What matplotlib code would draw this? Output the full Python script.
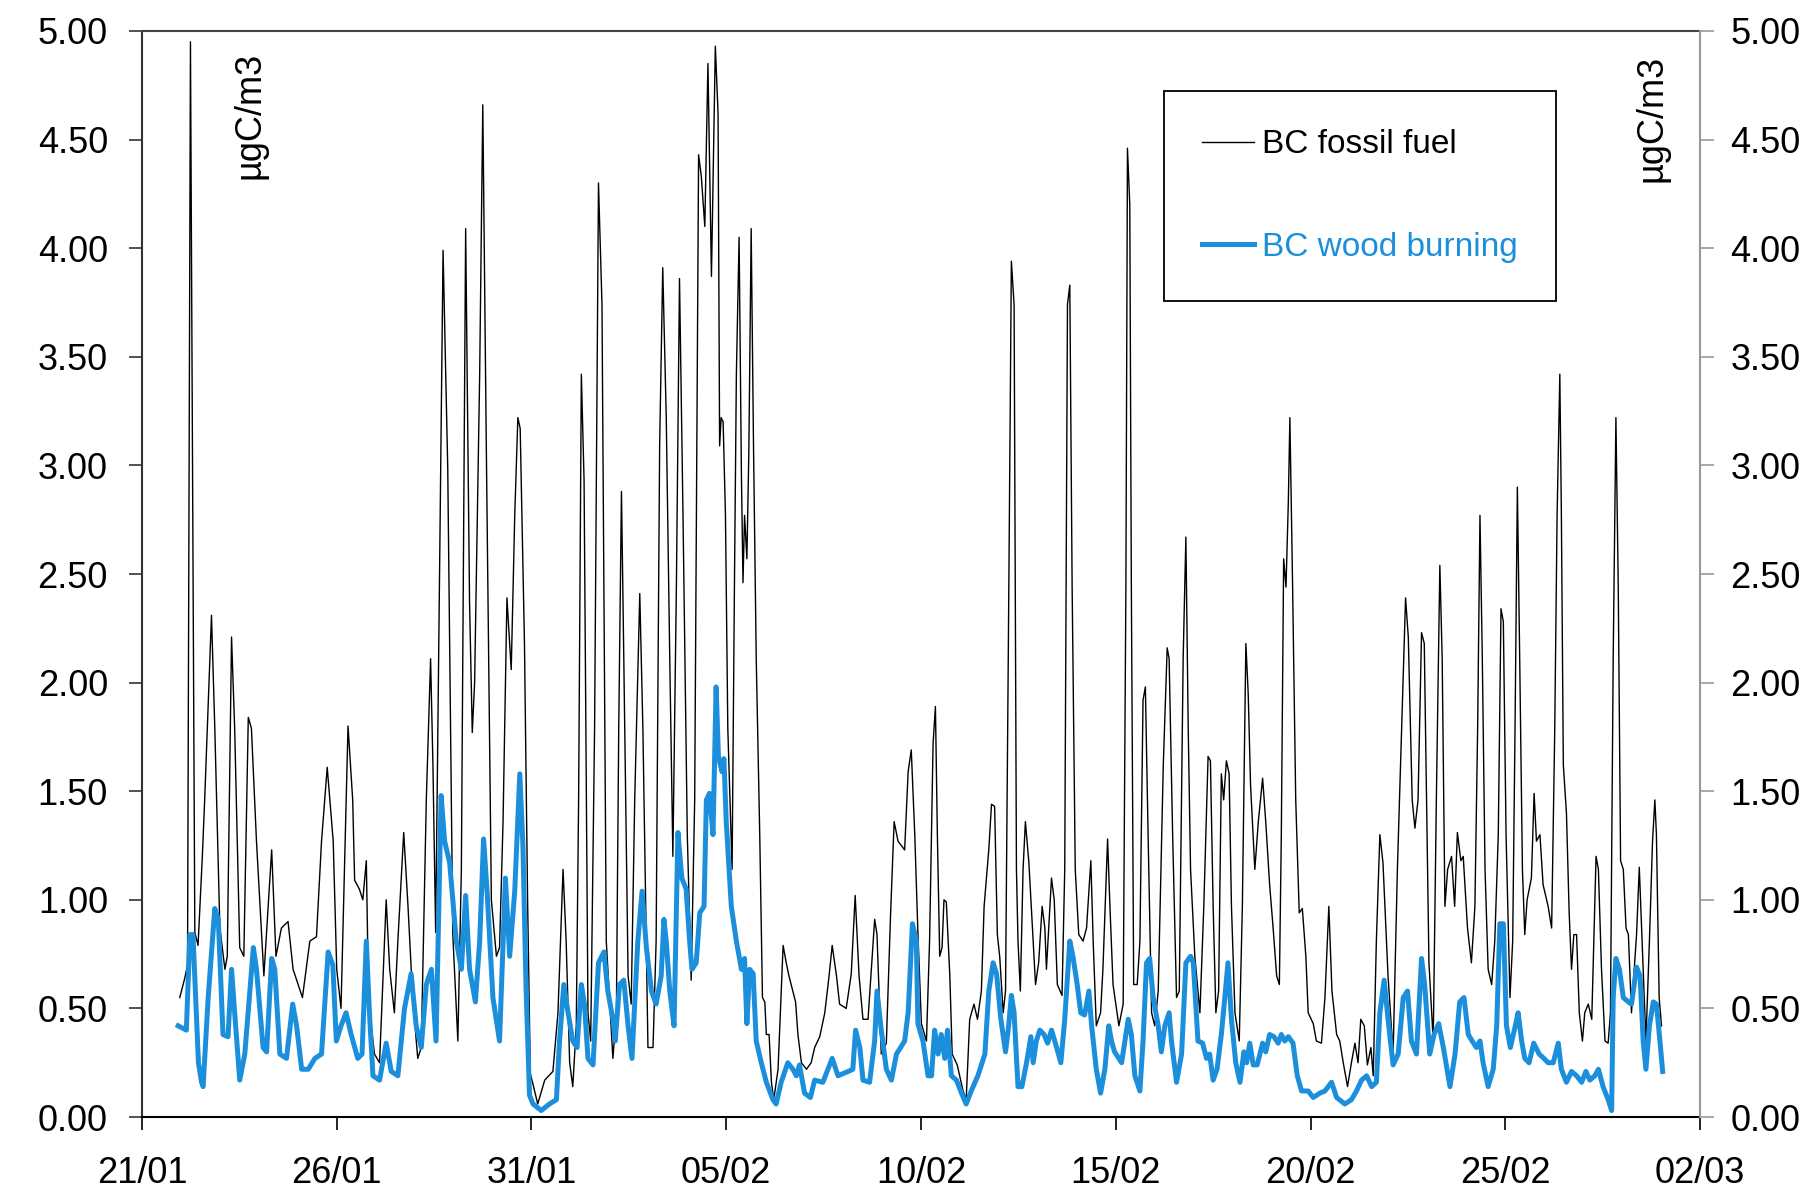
import datetime as dt
import matplotlib
matplotlib.use("Agg")
import matplotlib.pyplot as plt
import matplotlib.dates as mdates
from matplotlib.ticker import FormatStrFormatter, MultipleLocator

plt.rcParams['font.family'] = ['Liberation Sans', 'DejaVu Sans']

# BC fossil fuel, time in days after 21/01/2013 00:00
ff_day = [0.97, 1.10, 1.17, 1.245, 1.357, 1.44, 1.55, 1.61, 1.785, 1.87, 2.00, 2.13, 2.19, 2.30, 2.38, 2.51,
          2.615, 2.73, 2.81, 2.94, 3.13, 3.33, 3.44, 3.58, 3.75, 3.88, 4.12, 4.31, 4.48, 4.61, 4.756, 4.91,
          5.00, 5.11, 5.29, 5.41, 5.46, 5.58, 5.67, 5.76, 5.82, 5.97, 6.10, 6.27, 6.36, 6.48, 6.57, 6.72,
          6.83, 6.95, 7.08, 7.17, 7.30, 7.41, 7.47, 7.54, 7.73, 7.85, 7.98, 8.11, 8.20, 8.31, 8.41, 8.48,
          8.54, 8.67, 8.75, 8.84, 8.97, 9.10, 9.18, 9.27, 9.37, 9.48, 9.57, 9.65, 9.71, 9.82, 9.90, 9.97,
          10.04, 10.16, 10.34, 10.55, 10.68, 10.81, 10.89, 10.98, 11.06, 11.15, 11.21, 11.28, 11.35, 11.45,
          11.52, 11.62, 11.72, 11.81, 11.92, 12.09, 12.18, 12.24, 12.31, 12.37, 12.48, 12.56, 12.65, 12.78,
          12.86, 12.99, 13.12, 13.20, 13.29, 13.37, 13.46, 13.55, 13.63, 13.72, 13.80, 13.89, 14.00, 14.10,
          14.19, 14.29, 14.36, 14.45, 14.53, 14.62, 14.72, 14.79, 14.83, 14.87, 14.92, 14.98, 15.04, 15.15,
          15.21, 15.26, 15.33, 15.39, 15.43, 15.47, 15.53, 15.58, 15.64, 15.70, 15.77, 15.86, 15.93, 15.99,
          16.03, 16.10, 16.16, 16.22, 16.33, 16.46, 16.54, 16.61, 16.71, 16.78, 16.84, 16.93, 17.06, 17.18,
          17.27, 17.40, 17.53, 17.64, 17.72, 17.83, 17.91, 18.08, 18.21, 18.31, 18.41, 18.51, 18.64, 18.81,
          18.87, 18.98, 19.11, 19.22, 19.31, 19.41, 19.58, 19.67, 19.75, 19.84, 19.92, 20.01, 20.14, 20.22,
          20.31, 20.37, 20.42, 20.48, 20.54, 20.59, 20.65, 20.74, 20.80, 20.93, 21.08, 21.16, 21.25, 21.36,
          21.45, 21.55, 21.62, 21.74, 21.81, 21.89, 21.96, 22.02, 22.11, 22.17, 22.24, 22.32, 22.39, 22.45,
          22.49, 22.55, 22.62, 22.68, 22.77, 22.83, 22.94, 23.02, 23.11, 23.18, 23.22, 23.35, 23.42, 23.50,
          23.62, 23.69, 23.76, 23.82, 23.88, 23.96, 24.05, 24.16, 24.25, 24.36, 24.42, 24.50, 24.61, 24.67,
          24.79, 24.85, 24.93, 25.08, 25.19, 25.26, 25.30, 25.36, 25.40, 25.46, 25.55, 25.62, 25.70, 25.76,
          25.83, 25.92, 26.00, 26.09, 26.22, 26.32, 26.37, 26.46, 26.56, 26.63, 26.73, 26.80, 26.86, 26.92,
          27.03, 27.16, 27.26, 27.37, 27.43, 27.50, 27.57, 27.64, 27.71, 27.77, 27.84, 27.91, 27.97, 28.06,
          28.17, 28.25, 28.34, 28.40, 28.46, 28.57, 28.66, 28.77, 28.85, 28.95, 29.04, 29.13, 29.20, 29.25,
          29.31, 29.37, 29.43, 29.47, 29.54, 29.62, 29.71, 29.79, 29.88, 29.94, 30.07, 30.15, 30.28, 30.37,
          30.47, 30.55, 30.67, 30.75, 30.84, 30.95, 31.05, 31.14, 31.22, 31.29, 31.38, 31.46, 31.55, 31.61,
          31.69, 31.78, 31.86, 31.99, 32.12, 32.23, 32.34, 32.44, 32.51, 32.61, 32.68, 32.76, 32.85, 32.92,
          32.98, 33.04, 33.15, 33.23, 33.32, 33.38, 33.45, 33.52, 33.62, 33.70, 33.77, 33.86, 33.92, 34.03,
          34.13, 34.22, 34.29, 34.35, 34.41, 34.48, 34.56, 34.65, 34.73, 34.82, 34.89, 34.95, 35.02, 35.12,
          35.19, 35.25, 35.31, 35.37, 35.44, 35.50, 35.56, 35.67, 35.74, 35.80, 35.89, 35.97, 36.10, 36.19,
          36.27, 36.33, 36.40, 36.44, 36.49, 36.57, 36.64, 36.70, 36.76, 36.83, 36.90, 36.98, 37.04, 37.13,
          37.22, 37.33, 37.39, 37.47, 37.56, 37.64, 37.70, 37.77, 37.84, 37.90, 37.96, 38.03, 38.10, 38.16,
          38.24, 38.31, 38.37, 38.44, 38.50, 38.61, 38.70, 38.78, 38.84, 38.88, 38.95, 39.01]
ff_val = [0.55, 0.64, 0.70, 4.95, 0.85, 0.79, 1.20, 1.46, 2.31, 1.79, 0.87, 0.68, 0.74, 2.21, 1.79, 0.78,
          0.74, 1.84, 1.79, 1.27, 0.65, 1.23, 0.74, 0.87, 0.90, 0.68, 0.55, 0.81, 0.83, 1.27, 1.61, 1.27,
          0.68, 0.50, 1.80, 1.46, 1.09, 1.05, 1.00, 1.18, 0.52, 0.29, 0.25, 1.00, 0.68, 0.48, 0.81, 1.31,
          0.97, 0.55, 0.27, 0.32, 1.46, 2.11, 1.62, 0.85, 3.99, 2.99, 0.84, 0.35, 1.14, 4.09, 2.37, 1.77,
          2.00, 3.42, 4.66, 3.09, 1.00, 0.74, 0.78, 1.36, 2.39, 2.06, 2.77, 3.22, 3.17, 2.18, 1.00, 0.20,
          0.15, 0.06, 0.17, 0.21, 0.48, 1.14, 0.81, 0.25, 0.14, 0.42, 1.46, 3.42, 2.93, 0.48,
          0.35, 1.79, 4.30, 3.74, 0.81, 0.27, 0.48, 1.79, 2.88, 2.11, 0.65, 0.52, 1.46, 2.41,
          1.79, 0.32, 0.32, 0.81, 3.09, 3.91, 3.22, 2.11, 1.20, 2.44, 3.86, 2.77, 1.30, 0.63,
          1.46, 4.43, 4.33, 4.10, 4.85, 3.87, 4.93, 4.62, 3.09, 3.22, 3.20, 2.77, 1.79, 1.14,
          2.44, 3.42, 4.05, 2.95, 2.46, 2.77, 2.57, 3.06, 4.09, 3.09, 2.11, 1.30, 0.55, 0.53,
          0.38, 0.38, 0.16, 0.08, 0.22, 0.79, 0.71, 0.65, 0.58, 0.53, 0.38, 0.25, 0.22, 0.25,
          0.32, 0.37, 0.48, 0.65, 0.79, 0.65, 0.52, 0.50, 0.66, 1.02, 0.65, 0.45, 0.45, 0.91,
          0.84, 0.29, 0.34, 0.94, 1.36, 1.27, 1.23, 1.59, 1.69, 1.30, 0.85, 0.43, 0.35, 0.81,
          1.72, 1.89, 1.30, 0.74, 0.78, 1.00, 0.99, 0.65, 0.29, 0.24, 0.12, 0.08, 0.45, 0.52,
          0.45, 0.58, 0.97, 1.23, 1.44, 1.43, 0.84, 0.74, 0.48, 0.58, 2.11, 3.94, 3.74, 1.14,
          0.81, 0.58, 1.14, 1.36, 1.17, 0.97, 0.61, 0.71, 0.97, 0.87, 0.68, 1.10, 1.00, 0.61,
          0.56, 1.14, 3.74, 3.83, 2.44, 1.14, 0.84, 0.81, 0.87, 1.18, 0.81, 0.42, 0.48, 0.68,
          1.28, 0.97, 0.61, 0.42, 0.52, 2.44, 4.46, 4.20, 2.44, 0.61, 0.61, 0.81, 1.92, 1.98,
          1.30, 0.48, 0.42, 0.58, 1.62, 2.16, 2.11, 1.30, 0.55, 0.58, 2.11, 2.67, 1.79, 1.14,
          0.74, 0.48, 0.97, 1.66, 1.64, 0.97, 0.48, 0.58, 1.58, 1.46, 1.64, 1.58, 0.97, 0.48,
          0.35, 0.97, 2.18, 1.95, 1.53, 1.14, 1.36, 1.56, 1.36, 1.07, 0.87, 0.65, 0.61, 1.30,
          2.57, 2.44, 2.83, 3.22, 2.44, 1.46, 0.94, 0.96, 0.74, 0.48, 0.43, 0.35, 0.34, 0.55,
          0.97, 0.58, 0.38, 0.35, 0.25, 0.14, 0.25, 0.34, 0.25, 0.45, 0.42, 0.24, 0.32, 0.19,
          0.81, 1.30, 1.17, 0.65, 0.29, 1.14, 1.79, 2.39, 2.21, 1.46, 1.33, 1.46, 2.23, 2.18,
          1.46, 0.71, 0.35, 1.46, 2.54, 2.11, 0.97, 1.14, 1.20, 0.97, 1.31, 1.18, 1.20, 0.87,
          0.71, 0.97, 1.79, 2.77, 2.11, 1.14, 0.68, 0.61, 0.81, 1.30, 2.34, 2.28, 1.30, 0.55,
          0.81, 1.79, 2.90, 2.11, 1.14, 0.84, 1.00, 1.10, 1.49, 1.27, 1.30, 1.07, 0.97, 0.87,
          1.79, 2.77, 3.42, 2.77, 1.62, 1.40, 0.94, 0.68, 0.84, 0.84, 0.48, 0.35, 0.48, 0.52,
          0.45, 1.20, 1.14, 0.68, 0.35, 0.34, 0.48, 2.11, 3.22, 2.44, 1.18, 1.14, 0.87, 0.84,
          0.48, 0.68, 0.84, 1.15, 0.87, 0.35, 0.81, 1.27, 1.46, 1.30, 0.55, 0.42]

# BC wood burning
wb_day = [0.93, 1.14, 1.23, 1.31, 1.45, 1.53, 1.57, 1.70, 1.87, 1.96, 2.08, 2.21, 2.30, 2.38, 2.51, 2.64,
          2.86, 2.94, 3.11, 3.20, 3.33, 3.41, 3.54, 3.71, 3.87, 3.97, 4.10, 4.27, 4.44, 4.61, 4.78, 4.90,
          4.99, 5.11, 5.24, 5.37, 5.54, 5.65, 5.76, 5.84, 5.93, 6.10, 6.27, 6.40, 6.57, 6.74, 6.91, 7.04,
          7.17, 7.30, 7.43, 7.55, 7.68, 7.77, 7.90, 8.07, 8.20, 8.31, 8.41, 8.56, 8.67, 8.77, 8.86, 9.01,
          9.18, 9.33, 9.44, 9.57, 9.70, 9.78, 9.86, 9.95, 10.04, 10.25, 10.46, 10.64, 10.72, 10.83, 10.94,
          11.06, 11.17, 11.28, 11.36, 11.45, 11.58, 11.72, 11.86, 11.96, 12.09, 12.15, 12.26, 12.37, 12.48,
          12.58, 12.73, 12.84, 12.95, 13.08, 13.20, 13.33, 13.40, 13.46, 13.55, 13.66, 13.76, 13.86, 13.97,
          14.06, 14.12, 14.23, 14.32, 14.43, 14.49, 14.57, 14.66, 14.74, 14.80, 14.89, 14.94, 15.00, 15.13,
          15.26, 15.39, 15.47, 15.53, 15.60, 15.69, 15.77, 15.90, 16.03, 16.20, 16.28, 16.41, 16.58, 16.71,
          16.80, 16.88, 17.01, 17.16, 17.27, 17.48, 17.61, 17.72, 17.87, 18.13, 18.25, 18.32, 18.43, 18.51,
          18.68, 18.81, 18.87, 18.98, 19.11, 19.24, 19.37, 19.58, 19.67, 19.78, 19.88, 19.92, 20.05, 20.18,
          20.27, 20.35, 20.44, 20.52, 20.61, 20.68, 20.78, 20.91, 21.04, 21.16, 21.29, 21.46, 21.64, 21.74,
          21.85, 21.94, 22.05, 22.17, 22.25, 22.32, 22.39, 22.49, 22.59, 22.71, 22.82, 22.88, 22.96, 23.05,
          23.16, 23.25, 23.35, 23.45, 23.59, 23.69, 23.82, 23.90, 24.01, 24.10, 24.20, 24.31, 24.38, 24.50,
          24.61, 24.72, 24.82, 24.89, 24.97, 25.15, 25.32, 25.40, 25.49, 25.62, 25.70, 25.79, 25.87, 25.96,
          26.09, 26.17, 26.26, 26.37, 26.43, 26.56, 26.69, 26.80, 26.92, 26.99, 27.11, 27.23, 27.33, 27.41,
          27.50, 27.60, 27.71, 27.80, 27.88, 27.97, 28.08, 28.19, 28.29, 28.36, 28.44, 28.53, 28.63, 28.77,
          28.85, 28.95, 29.06, 29.17, 29.25, 29.34, 29.43, 29.55, 29.66, 29.77, 29.94, 30.07, 30.24, 30.37,
          30.54, 30.67, 30.88, 31.05, 31.18, 31.31, 31.44, 31.57, 31.69, 31.78, 31.89, 31.99, 32.12, 32.25,
          32.38, 32.49, 32.59, 32.72, 32.85, 32.93, 33.06, 33.17, 33.29, 33.41, 33.58, 33.71, 33.83, 33.94,
          34.05, 34.15, 34.26, 34.35, 34.43, 34.56, 34.69, 34.78, 34.86, 34.95, 35.03, 35.13, 35.27, 35.33,
          35.42, 35.50, 35.61, 35.73, 35.87, 35.99, 36.10, 36.23, 36.36, 36.44, 36.57, 36.70, 36.83, 36.96,
          37.07, 37.17, 37.30, 37.39, 37.51, 37.64, 37.73, 37.77, 37.84, 37.93, 38.03, 38.16, 38.24, 38.37,
          38.46, 38.54, 38.61, 38.70, 38.80, 38.88, 38.97, 39.04]
wb_val = [0.42, 0.40, 0.84, 0.84, 0.25, 0.16, 0.14, 0.55, 0.96, 0.91, 0.38, 0.37, 0.68, 0.48, 0.17, 0.29,
          0.78, 0.68, 0.32, 0.30, 0.73, 0.68, 0.29, 0.27, 0.52, 0.42, 0.22, 0.22, 0.27, 0.29, 0.76, 0.70,
          0.35, 0.42, 0.48, 0.38, 0.27, 0.29, 0.81, 0.48, 0.19, 0.17, 0.34, 0.21, 0.19, 0.50, 0.66, 0.42,
          0.32, 0.61, 0.68, 0.35, 1.48, 1.27, 1.17, 0.81, 0.68, 1.02, 0.68, 0.53, 0.81, 1.28, 1.04, 0.55,
          0.35, 1.10, 0.74, 1.04, 1.58, 1.25, 0.60, 0.10, 0.06, 0.03, 0.06, 0.08, 0.35, 0.61, 0.48,
          0.35, 0.32, 0.61, 0.52, 0.27, 0.24, 0.71, 0.76, 0.58, 0.45, 0.35, 0.61, 0.63, 0.42,
          0.27, 0.81, 1.04, 0.78, 0.58, 0.52, 0.65, 0.91, 0.81, 0.58, 0.42, 1.31, 1.10, 1.05,
          0.81, 0.68, 0.71, 0.94, 0.97, 1.46, 1.49, 1.30, 1.98, 1.66, 1.59, 1.65, 1.36, 0.97,
          0.81, 0.68, 0.73, 0.43, 0.68, 0.66, 0.35, 0.25, 0.16, 0.08, 0.06, 0.16, 0.25, 0.22,
          0.19, 0.24, 0.11, 0.09, 0.17, 0.16, 0.22, 0.27, 0.19, 0.21, 0.22, 0.40, 0.32, 0.17,
          0.16, 0.35, 0.58, 0.40, 0.22, 0.17, 0.29, 0.35, 0.48, 0.89, 0.81, 0.43, 0.35, 0.19,
          0.19, 0.40, 0.29, 0.38, 0.27, 0.40, 0.19, 0.17, 0.11, 0.06, 0.12, 0.19, 0.29, 0.58,
          0.71, 0.66, 0.45, 0.30, 0.42, 0.56, 0.48, 0.14, 0.14, 0.25, 0.37, 0.25, 0.35, 0.40,
          0.38, 0.34, 0.40, 0.34, 0.25, 0.45, 0.81, 0.74, 0.61, 0.48, 0.47, 0.58, 0.42, 0.22,
          0.11, 0.22, 0.42, 0.35, 0.30, 0.25, 0.45, 0.38, 0.19, 0.12, 0.35, 0.71, 0.73, 0.55,
          0.42, 0.30, 0.42, 0.48, 0.35, 0.16, 0.29, 0.71, 0.74, 0.71, 0.35, 0.34, 0.27, 0.29,
          0.17, 0.22, 0.38, 0.55, 0.71, 0.45, 0.25, 0.16, 0.30, 0.25, 0.34, 0.24, 0.24, 0.34,
          0.30, 0.38, 0.37, 0.34, 0.38, 0.35, 0.37, 0.34, 0.19, 0.12, 0.12, 0.09, 0.11, 0.12,
          0.16, 0.09, 0.06, 0.08, 0.12, 0.17, 0.19, 0.14, 0.16, 0.48, 0.63, 0.45, 0.24, 0.29,
          0.55, 0.58, 0.35, 0.29, 0.73, 0.61, 0.29, 0.38, 0.43, 0.32, 0.14, 0.29, 0.53, 0.55,
          0.38, 0.35, 0.32, 0.35, 0.25, 0.14, 0.22, 0.42, 0.89, 0.89, 0.42, 0.32, 0.43, 0.48,
          0.35, 0.27, 0.25, 0.34, 0.29, 0.27, 0.25, 0.25, 0.34, 0.22, 0.16, 0.21, 0.19, 0.16,
          0.21, 0.17, 0.19, 0.22, 0.14, 0.08, 0.03, 0.55, 0.73, 0.68, 0.55, 0.53, 0.52, 0.69,
          0.65, 0.35, 0.22, 0.42, 0.53, 0.52, 0.35, 0.21]

start = dt.datetime(2013, 1, 21)
ff_x = [start + dt.timedelta(days=d) for d in ff_day]
wb_x = [start + dt.timedelta(days=d) for d in wb_day]

blue = '#1b8fdc'

fig = plt.figure(figsize=(18.13, 11.91), dpi=100)
ax = fig.add_axes([0.0783, 0.0621, 0.8594, 0.9119])

ax.plot(ff_x, ff_val, color='black', lw=1.0, label='BC fossil fuel')
ax.plot(wb_x, wb_val, color=blue, lw=3.6, solid_joinstyle='round', label='BC wood burning')

ax.set_xlim(start, start + dt.timedelta(days=40))
ax.set_xticks([start + dt.timedelta(days=5 * i) for i in range(9)])
ax.xaxis.set_major_formatter(mdates.DateFormatter('%d/%m'))

ax.set_ylim(0, 5)
ax.yaxis.set_major_locator(MultipleLocator(0.5))
ax.yaxis.set_major_formatter(FormatStrFormatter('%.2f'))

ax.tick_params(axis='x', direction='out', length=9, width=1.2, pad=19, labelsize=26, top=False)
ax.tick_params(axis='y', direction='out', length=9.5, width=1.2, pad=15, labelsize=26, color='#333333')

ax2 = ax.twinx()
ax2.set_ylim(0, 5)
ax2.yaxis.set_major_locator(MultipleLocator(0.5))
ax2.yaxis.set_major_formatter(FormatStrFormatter('%.2f'))
ax2.tick_params(axis='y', direction='out', length=10, width=1.2, pad=12, labelsize=26, color='#999999')
for s in ['left', 'top', 'bottom']:
    ax2.spines[s].set_visible(False)
ax2.spines['right'].set_color('#999999')
ax2.spines['right'].set_linewidth(1.5)

ax.spines['right'].set_visible(False)
ax.spines['left'].set_color('#333333')
ax.spines['top'].set_color('#444444')
ax.spines['bottom'].set_color('black')
for s in ['left', 'top', 'bottom']:
    ax.spines[s].set_linewidth(1.5)

ax.text(0.0693, 0.981, 'µgC/m3', transform=ax.transAxes, rotation=90,
        ha='center', va='top', fontsize=26)
ax.text(0.969, 0.978, 'µgC/m3', transform=ax.transAxes, rotation=90,
        ha='center', va='top', fontsize=26)

leg = ax.legend(loc='upper left', bbox_to_anchor=(0.656, 0.9448), borderaxespad=0,
                fontsize=24, frameon=True, fancybox=False, framealpha=1,
                handlelength=1.55, handletextpad=0.25, borderpad=1.15, labelspacing=2.15,
                labelcolor='linecolor')
leg.get_frame().set_edgecolor('black')
leg.get_frame().set_linewidth(1.3)
leg.set_zorder(5)

fig.savefig('out.png', dpi=100, facecolor='white')
